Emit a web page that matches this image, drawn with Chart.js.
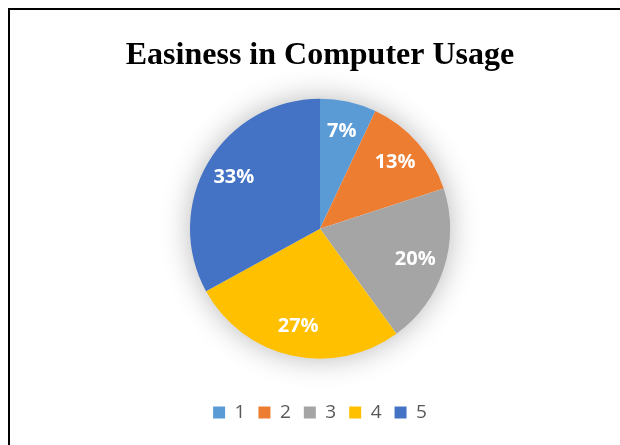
<!DOCTYPE html>
<html>
<head>
<meta charset="utf-8">
<script src="https://cdn.jsdelivr.net/npm/chart.js@4"></script>
<style>
  html, body { margin: 0; padding: 0; background: #fff; }
  #wrap { position: relative; width: 620px; height: 445px; overflow: hidden; }
  #frame {
    position: absolute; left: 8px; top: 8px; width: 700px; height: 500px;
    border-top: 2px solid #000; border-left: 2px solid #000;
  }
  canvas { position: absolute; left: 0; top: 0; }
</style>
</head>
<body>
<div id="wrap">
  <div id="frame"></div>
  <canvas id="pie" width="620" height="445"></canvas>
</div>
<script>
const titleText = 'Easiness in Computer Usage';
const categories = ['1', '2', '3', '4', '5'];
const shares = [7, 13, 20, 27, 33];
const sliceColors = ['#5B9BD5', '#ED7D31', '#A5A5A5', '#FFC000', '#4472C4'];

// soft glow under the pie, drawn once so slices don't shade each other
const pieShadow = {
  id: 'pieShadow',
  beforeDatasetsDraw(chart) {
    const arc = chart.getDatasetMeta(0).data[0];
    if (!arc) return;
    const {x, y, outerRadius} = arc;
    const ctx = chart.ctx;
    ctx.save();
    ctx.shadowColor = 'rgba(0,0,0,0.3)';
    ctx.shadowBlur = 30;
    ctx.fillStyle = '#fff';
    ctx.beginPath();
    ctx.arc(x, y, outerRadius - 1, 0, Math.PI * 2);
    ctx.fill();
    ctx.restore();
  }
};

const sliceLabels = {
  id: 'sliceLabels',
  afterDatasetsDraw(chart) {
    const ctx = chart.ctx;
    const data = chart.data.datasets[0].data;
    ctx.save();
    ctx.fillStyle = '#fff';
    ctx.font = 'bold 20px "Open Sans"';
    ctx.textAlign = 'center';
    ctx.textBaseline = 'middle';
    chart.getDatasetMeta(0).data.forEach((arc, i) => {
      const mid = (arc.startAngle + arc.endAngle) / 2;
      const r = arc.outerRadius * 0.77;
      ctx.fillText(data[i] + '%', arc.x + Math.cos(mid) * r, arc.y + Math.sin(mid) * r);
    });
    ctx.restore();
  }
};

new Chart(document.getElementById('pie'), {
  type: 'pie',
  data: {
    labels: categories,
    datasets: [{
      data: shares,
      backgroundColor: sliceColors,
      borderWidth: 0,
      radius: 130
    }]
  },
  options: {
    responsive: false,
    animation: false,
    layout: { padding: { top: 8, left: 20, right: 0, bottom: 13 } },
    plugins: {
      title: {
        display: true,
        text: titleText,
        color: '#000',
        font: { family: '"Liberation Serif"', size: 32, weight: 'bold' },
        padding: { top: 29, bottom: -8 }
      },
      legend: {
        position: 'bottom',
        labels: {
          boxWidth: 12,
          boxHeight: 12,
          padding: 13,
          color: '#595959',
          font: { family: '"Open Sans"', size: 19 }
        }
      },
      tooltip: { enabled: false }
    }
  },
  plugins: [pieShadow, sliceLabels]
});
</script>
</body>
</html>
